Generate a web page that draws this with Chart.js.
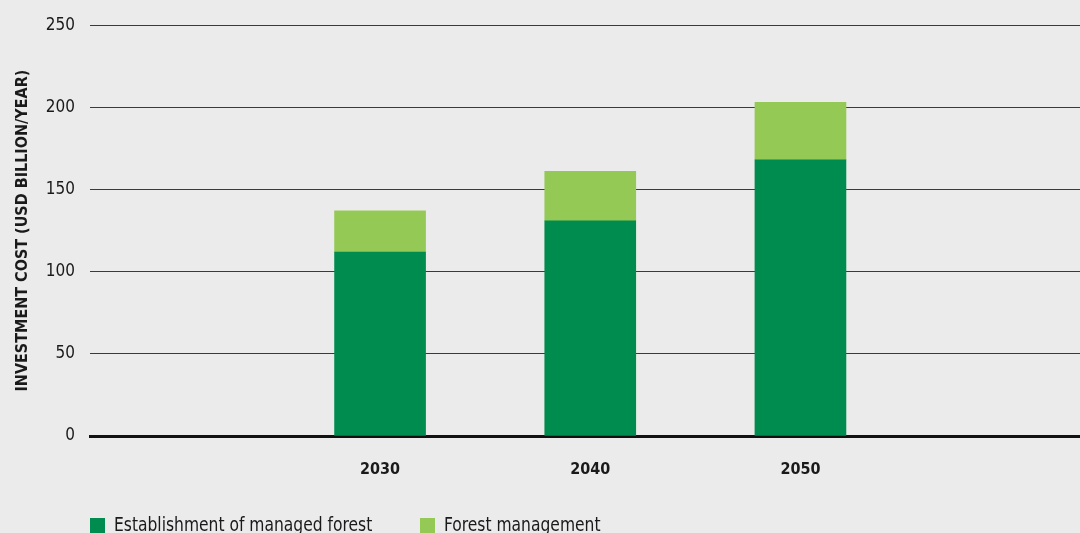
<!DOCTYPE html>
<html>
<head>
<meta charset="utf-8">
<script src="https://cdn.jsdelivr.net/npm/chart.js@4"></script>
<style>
  html, body { margin: 0; padding: 0; background: #ebebeb; }
  #wrap { position: relative; width: 1080px; height: 533px; overflow: hidden; background: #ebebeb; }
  .item { position: absolute; top: 512px; display: flex; align-items: center; font-family: "Liberation Sans Narrow", "DejaVu Sans Condensed", "Roboto", sans-serif; font-size: 20px; color: #1a1a1a; white-space: nowrap; }
  .sw { width: 15px; height: 15px; margin-right: 9px; margin-top: 3px; flex: none; }
  .tx { display: inline-block; transform: scaleX(0.863); transform-origin: left center; }
</style>
</head>
<body>
<div id="wrap">
  <canvas id="c" width="1080" height="533"></canvas>
</div>
<script>
const years = [2030, 2040, 2050];
const seriesNames = ["Establishment of managed forest", "Forest management"];
const establishment = [112, 131, 168];
const management = [25, 30, 35];
const yTicks = [0, 50, 100, 150, 200, 250];
const colors = ["#008c4f", "#95c955"];
const yTitle = "INVESTMENT COST (USD BILLION/YEAR)";

const fontFam = '"Liberation Sans Narrow", "DejaVu Sans Condensed", "Roboto", sans-serif';

const datasets = [establishment, management].map((vals, i) => ({
  label: seriesNames[i],
  data: years.map((y, j) => ({ x: y, y: vals[j] })),
  backgroundColor: colors[i],
  borderWidth: 0,
  barThickness: 91,
  stack: 's'
}));

new Chart(document.getElementById('c'), {
  type: 'bar',
  data: { datasets },
  options: {
    responsive: false,
    animation: false,
    layout: { padding: { top: 24, right: 0, bottom: 0, left: 0 } },
    plugins: { legend: { display: false }, tooltip: { enabled: false } },
    scales: {
      x: {
        type: 'linear',
        min: 2016.2,
        max: 2063.3,
        offset: false,
        stacked: true,
        grid: { display: false, drawTicks: false },
        border: { display: true, color: '#111', width: 3 },
        afterBuildTicks: (s) => { s.ticks = years.map(v => ({ value: v })); },
        afterFit: (s) => { s.height = 97; },
        ticks: {
          autoSkip: false,
          maxRotation: 0,
          padding: 24,
          color: '#1a1a1a',
          font: { family: fontFam, size: 16, weight: 'bold' },
          callback: (v) => String(v)
        }
      },
      y: {
        stacked: true,
        min: 0,
        max: 250,
        afterBuildTicks: (s) => { s.ticks = yTicks.map(v => ({ value: v })); },
        afterFit: (s) => { s.width = 90; },
        grid: { color: (ctx) => ctx.tick && ctx.tick.value === 0 ? 'rgba(0,0,0,0)' : '#3a3a3a', lineWidth: 1, drawTicks: false },
        border: { display: false },
        ticks: {
          padding: 15,
          color: '#1a1a1a',
          font: { family: fontFam, size: 17 }
        },
        title: {
          display: true,
          text: yTitle,
          color: '#1a1a1a',
          font: { family: fontFam, size: 16, weight: 'bold' },
          padding: { top: 13, bottom: 0 }
        }
      }
    }
  }
});

const legendLeft = [90, 420];
const wrap = document.getElementById('wrap');
seriesNames.forEach((name, i) => {
  const it = document.createElement('div');
  it.className = 'item';
  it.style.left = legendLeft[i] + 'px';
  const sw = document.createElement('span');
  sw.className = 'sw';
  sw.style.background = colors[i];
  const tx = document.createElement('span');
  tx.className = 'tx';
  tx.textContent = name;
  it.appendChild(sw);
  it.appendChild(tx);
  wrap.appendChild(it);
});
</script>
</body>
</html>
